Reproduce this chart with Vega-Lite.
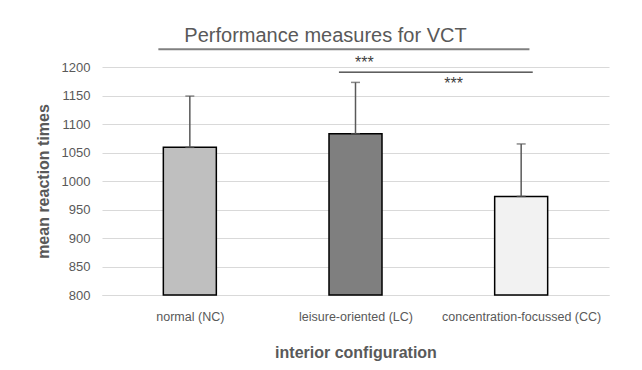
{
  "$schema": "https://vega.github.io/schema/vega-lite/v6.json",
  "autosize": {"type": "none"},
  "width": 507,
  "height": 228,
  "padding": {"left": 102, "top": 67, "right": 33, "bottom": 75},
  "background": "white",
  "config": {
    "view": {"stroke": null},
    "font": "Liberation Sans",
    "axis": {"labelFont": "Liberation Sans", "titleFont": "Liberation Sans"}
  },
  "title": {
    "text": "Performance measures for VCT",
    "font": "Liberation Sans",
    "fontSize": 20,
    "fontWeight": "normal",
    "color": "#595959",
    "anchor": "middle",
    "frame": "group",
    "dx": -30,
    "offset": 2
  },
  "datasets": {
    "bars": [
      {"config": "normal (NC)", "pos": 0.5, "mean": 1059, "upper": 1149, "fill": "#bfbfbf"},
      {"config": "leisure-oriented (LC)", "pos": 1.5, "mean": 1083, "upper": 1173, "fill": "#7f7f7f"},
      {"config": "concentration-focussed (CC)", "pos": 2.5, "mean": 973, "upper": 1065, "fill": "#f2f2f2"}
    ],
    "sig": [
      {"x1": 0.31, "x2": 2.55, "y": 1231, "color": "#808080", "w": 2},
      {"x1": 1.40, "x2": 2.57, "y": 1191, "color": "#000000", "w": 1}
    ],
    "stars": [
      {"x": 1.553, "y": 1214, "label": "***"},
      {"x": 2.092, "y": 1177, "label": "***"}
    ]
  },
  "layer": [
    {
      "data": {"name": "bars"},
      "mark": {"type": "bar", "size": 53, "stroke": "#000000", "strokeWidth": 1.5},
      "encoding": {
        "x": {
          "field": "pos", "type": "quantitative",
          "scale": {"domain": [0, 3], "nice": false, "zero": false},
          "axis": {
            "values": [0.5, 1.5, 2.5],
            "labelExpr": "datum.value == 0.5 ? 'normal (NC)' : datum.value == 1.5 ? 'leisure-oriented (LC)' : 'concentration-focussed (CC)'",
            "title": "interior configuration",
            "titleFontSize": 16, "titleFontWeight": "bold", "titleColor": "#595959", "titlePadding": 22,
            "labelFontSize": 12.5, "labelColor": "#595959", "labelPadding": 15, "labelOverlap": false,
            "ticks": false, "grid": false, "domainColor": "#d9d9d9", "domainWidth": 1
          }
        },
        "y": {
          "field": "mean", "type": "quantitative",
          "scale": {"domain": [800, 1200], "nice": false, "zero": false},
          "axis": {
            "values": [800, 850, 900, 950, 1000, 1050, 1100, 1150, 1200],
            "format": "d",
            "labelOverlap": false,
            "title": "mean reaction times",
            "titleFontSize": 16, "titleFontWeight": "bold", "titleColor": "#595959", "titlePadding": 10,
            "labelFontSize": 13, "labelColor": "#595959", "labelPadding": 12,
            "ticks": false, "domain": false, "grid": true, "gridColor": "#d9d9d9", "gridWidth": 1
          }
        },
        "y2": {"datum": 800},
        "fill": {"field": "fill", "type": "nominal", "scale": null},
        "fillOpacity": {"value": 1}
      }
    },
    {
      "data": {"name": "bars"},
      "mark": {"type": "rule", "color": "#595959", "strokeWidth": 1.5},
      "encoding": {
        "x": {"field": "pos", "type": "quantitative"},
        "y": {"field": "mean", "type": "quantitative",
          "axis": {
            "values": [800, 850, 900, 950, 1000, 1050, 1100, 1150, 1200],
            "format": "d",
            "labelOverlap": false,
            "title": "mean reaction times",
            "titleFontSize": 16, "titleFontWeight": "bold", "titleColor": "#595959", "titlePadding": 10,
            "labelFontSize": 13, "labelColor": "#595959", "labelPadding": 12,
            "ticks": false, "domain": false, "grid": true, "gridColor": "#d9d9d9", "gridWidth": 1
          }},
        "y2": {"field": "upper"}
      }
    },
    {
      "data": {"name": "bars"},
      "mark": {"type": "tick", "orient": "horizontal", "color": "#595959", "size": 9, "thickness": 1.5},
      "encoding": {
        "x": {"field": "pos", "type": "quantitative"},
        "y": {"field": "upper", "type": "quantitative",
          "axis": {
            "values": [800, 850, 900, 950, 1000, 1050, 1100, 1150, 1200],
            "format": "d",
            "labelOverlap": false,
            "title": "mean reaction times",
            "titleFontSize": 16, "titleFontWeight": "bold", "titleColor": "#595959", "titlePadding": 10,
            "labelFontSize": 13, "labelColor": "#595959", "labelPadding": 12,
            "ticks": false, "domain": false, "grid": true, "gridColor": "#d9d9d9", "gridWidth": 1
          }}
      }
    },
    {
      "data": {"name": "bars"},
      "mark": {"type": "tick", "orient": "horizontal", "color": "#595959", "size": 9, "thickness": 1.5},
      "encoding": {
        "x": {"field": "pos", "type": "quantitative"},
        "y": {"field": "mean", "type": "quantitative",
          "axis": {
            "values": [800, 850, 900, 950, 1000, 1050, 1100, 1150, 1200],
            "format": "d",
            "labelOverlap": false,
            "title": "mean reaction times",
            "titleFontSize": 16, "titleFontWeight": "bold", "titleColor": "#595959", "titlePadding": 10,
            "labelFontSize": 13, "labelColor": "#595959", "labelPadding": 12,
            "ticks": false, "domain": false, "grid": true, "gridColor": "#d9d9d9", "gridWidth": 1
          }}
      }
    },
    {
      "data": {"name": "sig"},
      "mark": {"type": "rule"},
      "encoding": {
        "x": {"field": "x1", "type": "quantitative"},
        "x2": {"field": "x2"},
        "y": {"field": "y", "type": "quantitative",
          "axis": {
            "values": [800, 850, 900, 950, 1000, 1050, 1100, 1150, 1200],
            "format": "d",
            "labelOverlap": false,
            "title": "mean reaction times",
            "titleFontSize": 16, "titleFontWeight": "bold", "titleColor": "#595959", "titlePadding": 10,
            "labelFontSize": 13, "labelColor": "#595959", "labelPadding": 12,
            "ticks": false, "domain": false, "grid": true, "gridColor": "#d9d9d9", "gridWidth": 1
          }},
        "color": {"field": "color", "type": "nominal", "scale": null},
        "strokeWidth": {"field": "w", "type": "quantitative", "scale": null}
      }
    },
    {
      "data": {"name": "stars"},
      "mark": {"type": "text", "font": "Liberation Sans", "fontSize": 16, "color": "#404040", "baseline": "alphabetic", "align": "center", "dy": 9},
      "encoding": {
        "x": {"field": "x", "type": "quantitative"},
        "y": {"field": "y", "type": "quantitative",
          "axis": {
            "values": [800, 850, 900, 950, 1000, 1050, 1100, 1150, 1200],
            "format": "d",
            "labelOverlap": false,
            "title": "mean reaction times",
            "titleFontSize": 16, "titleFontWeight": "bold", "titleColor": "#595959", "titlePadding": 10,
            "labelFontSize": 13, "labelColor": "#595959", "labelPadding": 12,
            "ticks": false, "domain": false, "grid": true, "gridColor": "#d9d9d9", "gridWidth": 1
          }},
        "text": {"field": "label"}
      }
    }
  ]
}
